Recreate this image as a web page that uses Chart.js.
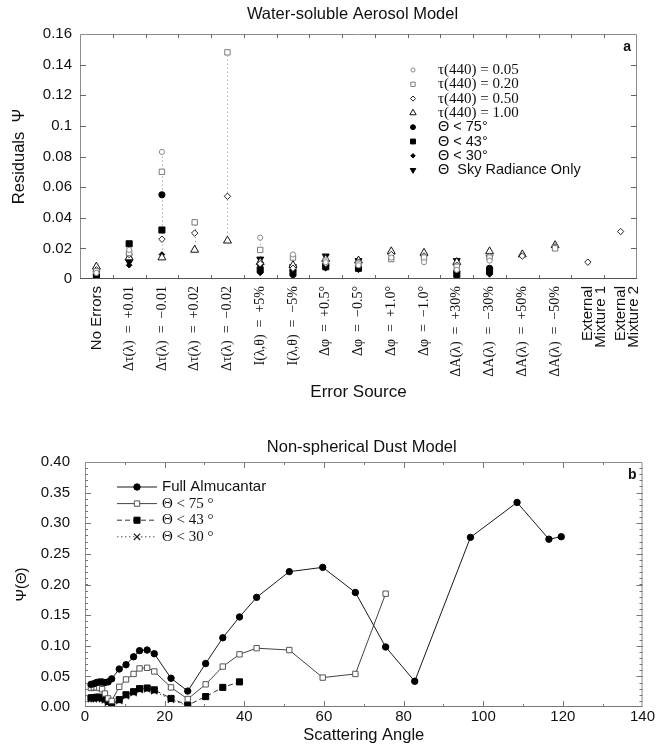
<!DOCTYPE html>
<html>
<head>
<meta charset="utf-8">
<script src="https://cdn.jsdelivr.net/npm/chart.js@4.4.1/dist/chart.umd.min.js"></script>
<style>
  html, body { margin: 0; padding: 0; background: #fff; }
  #wrap { position: relative; width: 656px; height: 753px; background: #fff; }
  canvas { position: absolute; left: 0; }
  #panelA { top: 0; }
  #panelB { top: 420px; }
</style>
</head>
<body>
<div id="wrap">
  <canvas id="panelA" width="656" height="410"></canvas>
  <canvas id="panelB" width="656" height="333"></canvas>
</div>
<script>
// ---------- Panel a: residuals for each error source ----------
const errorSources = [
  'No Errors',
  'Δτ(λ)  =  +0.01', 'Δτ(λ)  =  −0.01', 'Δτ(λ)  =  +0.02', 'Δτ(λ)  =  −0.02',
  'I(λ,θ)  =  +5%', 'I(λ,θ)  =  −5%',
  'Δφ  =  +0.5°', 'Δφ  =  −0.5°', 'Δφ  =  +1.0°', 'Δφ  =  −1.0°',
  'ΔA(λ)  =  +30%', 'ΔA(λ)  =  −30%', 'ΔA(λ)  =  +50%', 'ΔA(λ)  =  −50%',
  ['External', 'Mixture 1'], ['External', 'Mixture 2']
];
const residualTicks = [0, 0.02, 0.04, 0.06, 0.08, 0.1, 0.12, 0.14, 0.16];

const tau005  = [0.004, 0.019, 0.083, null, null, 0.027, 0.016, 0.011, 0.009, 0.014, 0.011, 0.006, 0.012, null, null, null, null];
const tau020  = [0.005, 0.017, 0.070, 0.037, 0.148, 0.019, 0.014, 0.012, 0.010, 0.013, 0.014, 0.008, 0.014, null, 0.020, null, null];
const tau050  = [0.006, 0.016, 0.026, 0.030, 0.054, 0.010, 0.007, 0.010, 0.011, 0.016, 0.015, 0.009, 0.015, 0.015, 0.021, 0.011, 0.031];
const tau100  = [0.008, 0.014, 0.014, 0.019, 0.025, 0.011, 0.009, 0.013, 0.012, 0.018, 0.017, 0.011, 0.018, 0.016, 0.022, null, null];
const theta75 = [0.003, 0.013, 0.055, null, null, 0.010, 0.006, 0.009, 0.008, null, null, 0.005, 0.007, null, null, null, null];
const theta43 = [0.002, 0.023, 0.032, null, null, 0.006, 0.004, 0.008, 0.007, null, null, 0.003, 0.005, null, null, null, null];
const theta30 = [0.001, 0.009, 0.016, null, null, 0.004, 0.002, 0.007, 0.006, null, null, 0.002, 0.003, null, null, null, null];
const skyOnly = [0.004, 0.011, null, null, null, 0.013, 0.008, 0.015, 0.012, null, null, 0.012, 0.014, null, null, null, null];

// ---------- Panel b: residual versus scattering angle ----------
const fullAngle = [1.5, 2.2, 2.9, 3.6, 4.3, 5.0, 5.8, 6.7, 8.6, 10.3, 12.2, 13.7, 15.6, 17.4, 21.6, 25.8, 30.3, 34.6, 38.8, 43.1, 51.3, 59.7, 67.9, 75.5, 82.8, 96.8, 108.5, 116.5, 119.6];
const fullPsi   = [0.037, 0.038, 0.040, 0.041, 0.041, 0.040, 0.041, 0.046, 0.062, 0.069, 0.082, 0.092, 0.093, 0.087, 0.047, 0.026, 0.071, 0.113, 0.147, 0.179, 0.221, 0.228, 0.187, 0.098, 0.042, 0.277, 0.334, 0.274, 0.278];
const lt75Angle = [1.5, 2.2, 2.9, 3.6, 4.3, 5.0, 5.8, 6.7, 8.6, 10.3, 12.2, 13.7, 15.6, 17.4, 21.6, 25.8, 30.3, 34.6, 38.8, 43.1, 51.3, 59.7, 67.9, 75.5];
const lt75Psi   = [0.031, 0.032, 0.032, 0.031, 0.029, 0.022, 0.014, 0.010, 0.033, 0.045, 0.054, 0.063, 0.064, 0.058, 0.032, 0.013, 0.037, 0.066, 0.086, 0.096, 0.093, 0.048, 0.054, 0.185];
const lt43Angle = [1.5, 2.2, 2.9, 3.6, 4.3, 5.0, 5.8, 6.7, 8.6, 10.3, 12.2, 13.7, 15.6, 17.4, 21.6, 25.8, 30.3, 34.6, 38.8];
const lt43Psi   = [0.015, 0.015, 0.016, 0.016, 0.015, 0.013, 0.009, 0.004, 0.012, 0.020, 0.025, 0.030, 0.031, 0.028, 0.014, 0.003, 0.017, 0.032, 0.041];
const lt30Angle = [1.5, 2.2, 2.9, 3.6, 4.3, 5.0, 5.8, 6.7, 8.6, 10.3, 12.2, 13.7, 15.6, 17.4, 21.6, 25.8];
const lt30Psi   = [0.013, 0.013, 0.014, 0.014, 0.013, 0.011, 0.007, 0.003, 0.010, 0.018, 0.023, 0.028, 0.029, 0.026, 0.012, 0.002];
const angleTicks = [0, 20, 40, 60, 80, 100, 120, 140];
const psiTicks = [0, 0.05, 0.10, 0.15, 0.20, 0.25, 0.30, 0.35, 0.40];

const SANS = '"Liberation Sans", Arial, Helvetica, sans-serif';
const SERIF = '"Liberation Serif", "Times New Roman", Times, serif';
const INK = '#111';

const pairs = (xs, ys) => xs.map((x, i) => ({ x, y: ys[i] }));

// Boxed frame with inward tick marks on all four sides
const frame = {
  id: 'frame',
  afterDatasetsDraw(chart, _args, o) {
    const { ctx, chartArea: a } = chart;
    const sx = chart.scales.x, sy = chart.scales.y;
    ctx.save();
    ctx.lineWidth = 1;
    ctx.strokeStyle = o.edge;
    ctx.beginPath();
    ctx.moveTo(a.left + 0.5, a.bottom);
    ctx.lineTo(a.left + 0.5, a.top + 0.5);
    ctx.lineTo(a.right - 0.5, a.top + 0.5);
    ctx.lineTo(a.right - 0.5, a.bottom);
    ctx.stroke();
    ctx.strokeStyle = o.base;
    ctx.beginPath();
    ctx.moveTo(a.left, a.bottom - 0.5);
    ctx.lineTo(a.right, a.bottom - 0.5);
    ctx.stroke();

    ctx.strokeStyle = o.tick;
    const hTick = (py, len) => {
      if (py <= a.top + 1 || py >= a.bottom - 1) return;
      py = Math.round(py) + 0.5;
      ctx.beginPath();
      ctx.moveTo(a.left, py); ctx.lineTo(a.left + len, py);
      ctx.moveTo(a.right, py); ctx.lineTo(a.right - len, py);
      ctx.stroke();
    };
    const vTick = (px, len) => {
      if (px <= a.left + 1 || px >= a.right - 1) return;
      px = Math.round(px) + 0.5;
      ctx.beginPath();
      ctx.moveTo(px, a.top); ctx.lineTo(px, a.top + len);
      ctx.moveTo(px, a.bottom); ctx.lineTo(px, a.bottom - len);
      ctx.stroke();
    };
    if (o.yMinor) {
      for (let v = sy.min; v <= sy.max + 1e-9; v += o.yMinor) hTick(sy.getPixelForValue(v), o.minorLen);
    }
    sy.ticks.forEach(t => hTick(sy.getPixelForValue(t.value), o.majorLen));
    if (sx.type === 'category') {
      for (let i = 1; i < sx.ticks.length; i++) {
        vTick((sx.getPixelForTick(i - 1) + sx.getPixelForTick(i)) / 2, o.minorLen + 1);
      }
    } else {
      if (o.xMinor) {
        for (let v = sx.min; v <= sx.max + 1e-9; v += o.xMinor) vTick(sx.getPixelForValue(v), o.minorLen);
      }
      sx.ticks.forEach(t => vTick(sx.getPixelForValue(t.value), o.majorLen));
    }
    ctx.restore();
  }
};

// Panel heading and panel letter
const panelText = {
  id: 'panelText',
  afterDraw(chart, _args, o) {
    const { ctx, chartArea: a } = chart;
    ctx.save();
    ctx.fillStyle = INK;
    ctx.textBaseline = 'middle';
    ctx.textAlign = 'center';
    ctx.font = o.titleSize + 'px ' + SANS;
    ctx.fillText(o.title, (a.left + a.right) / 2 + o.titleShift, o.titleY);
    ctx.textAlign = 'right';
    ctx.font = 'bold ' + o.letterSize + 'px ' + SANS;
    ctx.fillText(o.letter, a.right - 6, a.top + 13);
    ctx.restore();
  }
};

// Dotted vertical guide spanning the spread of results in each category
const spreadGuides = {
  id: 'spreadGuides',
  beforeDatasetsDraw(chart, _args, o) {
    const { ctx } = chart;
    const sx = chart.scales.x, sy = chart.scales.y;
    ctx.save();
    ctx.strokeStyle = o.color;
    ctx.lineWidth = 1;
    ctx.setLineDash([1, 3]);
    chart.data.labels.forEach((_l, i) => {
      const vals = chart.data.datasets.map(d => d.data[i]).filter(v => v !== null && v !== undefined);
      if (vals.length < 2) return;
      const lo = Math.min(...vals), hi = Math.max(...vals);
      if (hi - lo < 0.004) return;
      const px = Math.round(sx.getPixelForValue(i)) + 0.5;
      ctx.beginPath();
      ctx.moveTo(px, sy.getPixelForValue(lo));
      ctx.lineTo(px, sy.getPixelForValue(hi));
      ctx.stroke();
    });
    ctx.restore();
  }
};

// Marker-only key drawn inside the plot area
const markerKey = {
  id: 'markerKey',
  afterDraw(chart, _args, o) {
    const { ctx } = chart;
    chart.data.datasets.forEach((ds, i) => {
      const y = o.top + i * o.rowHeight;
      ctx.save();
      ctx.lineWidth = ds.pointBorderWidth || 1;
      ctx.strokeStyle = ds.pointBorderColor;
      ctx.fillStyle = ds.pointBackgroundColor;
      Chart.helpers.drawPoint(ctx, {
        pointStyle: ds.pointStyle, rotation: ds.pointRotation || 0,
        radius: ds.pointRadius * o.markerScale, borderWidth: ds.pointBorderWidth || 1
      }, o.left, y);
      ctx.fillStyle = INK;
      ctx.textAlign = 'left';
      ctx.textBaseline = 'middle';
      ctx.font = (ds.keyFamily === 'serif' ? o.serifSize + 'px ' + SERIF : o.sansSize + 'px ' + SANS);
      ctx.fillText(ds.label, o.left + o.textGap, y);
      ctx.restore();
    });
  }
};

// Line-and-marker key drawn inside the plot area
const lineKey = {
  id: 'lineKey',
  afterDraw(chart, _args, o) {
    const { ctx } = chart;
    chart.data.datasets.forEach((ds, i) => {
      const y = o.top + i * o.rowHeight;
      ctx.save();
      ctx.strokeStyle = ds.borderColor;
      ctx.lineWidth = ds.borderWidth;
      ctx.setLineDash(ds.borderDash || []);
      ctx.beginPath();
      ctx.moveTo(o.lineFrom, y); ctx.lineTo(o.lineTo, y);
      ctx.stroke();
      ctx.setLineDash([]);
      ctx.lineWidth = ds.pointBorderWidth || 1;
      ctx.strokeStyle = ds.pointBorderColor;
      ctx.fillStyle = ds.pointBackgroundColor;
      Chart.helpers.drawPoint(ctx, {
        pointStyle: ds.pointStyle, rotation: 0,
        radius: ds.pointRadius, borderWidth: ds.pointBorderWidth || 1
      }, (o.lineFrom + o.lineTo) / 2, y);
      ctx.fillStyle = INK;
      ctx.textAlign = 'left';
      ctx.textBaseline = 'middle';
      ctx.font = (ds.keyFamily === 'serif' ? o.serifSize + 'px ' + SERIF : o.sansSize + 'px ' + SANS);
      ctx.fillText(ds.label, o.textX, y);
      ctx.restore();
    });
  }
};

const fmtResidual = v => String(+Number(v).toFixed(2));

new Chart(document.getElementById('panelA'), {
  type: 'line',
  data: {
    labels: errorSources,
    datasets: [
      { label: 'τ(440) = 0.05', data: tau005, keyFamily: 'serif', pointStyle: 'circle', pointRadius: 2.6,
        pointBackgroundColor: '#fff', pointBorderColor: '#8a8a8a', pointBorderWidth: 1 },
      { label: 'τ(440) = 0.20', data: tau020, keyFamily: 'serif', pointStyle: 'rect', pointRadius: 3.8,
        pointBackgroundColor: '#fff', pointBorderColor: '#7a7a7a', pointBorderWidth: 1 },
      { label: 'τ(440) = 0.50', data: tau050, keyFamily: 'serif', pointStyle: 'rectRot', pointRadius: 3.2,
        pointBackgroundColor: '#fff', pointBorderColor: '#222', pointBorderWidth: 1 },
      { label: 'τ(440) = 1.00', data: tau100, keyFamily: 'serif', pointStyle: 'triangle', pointRadius: 4.6,
        pointBackgroundColor: '#fff', pointBorderColor: '#111', pointBorderWidth: 1 },
      { label: 'Θ < 75°', data: theta75, keyFamily: 'sans', pointStyle: 'circle', pointRadius: 3.1,
        pointBackgroundColor: '#000', pointBorderColor: '#000', pointBorderWidth: 1 },
      { label: 'Θ < 43°', data: theta43, keyFamily: 'sans', pointStyle: 'rect', pointRadius: 4.3,
        pointBackgroundColor: '#000', pointBorderColor: '#000', pointBorderWidth: 1 },
      { label: 'Θ < 30°', data: theta30, keyFamily: 'sans', pointStyle: 'rectRot', pointRadius: 2.8,
        pointBackgroundColor: '#000', pointBorderColor: '#000', pointBorderWidth: 1 },
      { label: 'Θ  Sky Radiance Only', data: skyOnly, keyFamily: 'sans', pointStyle: 'triangle', pointRotation: 180,
        pointRadius: 4, pointBackgroundColor: '#000', pointBorderColor: '#000', pointBorderWidth: 1 }
    ].map(d => Object.assign({ showLine: false }, d))
  },
  options: {
    responsive: false,
    animation: false,
    events: [],
    layout: { padding: { top: 34, right: 19, bottom: 4, left: 0 } },
    plugins: {
      legend: { display: false },
      tooltip: { enabled: false },
      frame: { edge: '#8c8c8c', base: '#555', tick: '#666', majorLen: 6, minorLen: 3, yMinor: 0 },
      panelText: { title: 'Water-soluble Aerosol Model', titleSize: 16.5, titleY: 14, titleShift: -6,
                   letter: 'a', letterSize: 14 },
      spreadGuides: { color: '#8a8a8a' },
      markerKey: { left: 413, top: 70, rowHeight: 14.3, textGap: 25, markerScale: 0.8, serifSize: 15, sansSize: 14.5 }
    },
    scales: {
      x: {
        type: 'category',
        offset: true,
        grid: { display: false, drawTicks: false },
        border: { display: false },
        ticks: {
          autoSkip: false, minRotation: 90, maxRotation: 90, padding: 7, color: INK,
          font: ctx => (ctx.index >= 1 && ctx.index <= 14)
            ? { family: SERIF, size: 14 }
            : { family: SANS, size: 15, lineHeight: 0.85 }
        },
        title: { display: true, text: 'Error Source', color: INK, font: { family: SANS, size: 17 },
                 padding: { top: 0, bottom: 3 } },
        afterFit: s => { s.height = 127; }
      },
      y: {
        min: 0, max: 0.16,
        afterBuildTicks: s => { s.ticks = residualTicks.map(v => ({ value: v })); },
        grid: { display: false, drawTicks: false },
        border: { display: false },
        ticks: { padding: 8, color: INK, font: { family: SANS, size: 15 }, callback: fmtResidual },
        title: { display: true, text: 'Residuals  Ψ', color: INK, font: { family: SANS, size: 16.5 },
                 padding: { top: 10, bottom: 0 } },
        afterFit: s => { s.width = 80; }
      }
    }
  },
  plugins: [spreadGuides, frame, panelText, markerKey]
});

new Chart(document.getElementById('panelB'), {
  type: 'scatter',
  data: {
    datasets: [
      { label: 'Full Almucantar', data: pairs(fullAngle, fullPsi), keyFamily: 'sans',
        showLine: true, borderColor: '#1a1a1a', borderWidth: 1,
        pointStyle: 'circle', pointRadius: 3.2, pointBackgroundColor: '#000', pointBorderColor: '#000', pointBorderWidth: 1 },
      { label: 'Θ < 75 °', data: pairs(lt75Angle, lt75Psi), keyFamily: 'serif',
        showLine: true, borderColor: '#444', borderWidth: 1,
        pointStyle: 'rect', pointRadius: 3.8, pointBackgroundColor: '#fff', pointBorderColor: '#555', pointBorderWidth: 1 },
      { label: 'Θ < 43 °', data: pairs(lt43Angle, lt43Psi), keyFamily: 'serif',
        showLine: true, borderColor: '#333', borderWidth: 1, borderDash: [5, 3],
        pointStyle: 'rect', pointRadius: 4.3, pointBackgroundColor: '#000', pointBorderColor: '#000', pointBorderWidth: 1 },
      { label: 'Θ < 30 °', data: pairs(lt30Angle, lt30Psi), keyFamily: 'serif',
        showLine: true, borderColor: '#555', borderWidth: 1, borderDash: [1.5, 2.5],
        pointStyle: 'crossRot', pointRadius: 4.5, pointBackgroundColor: '#000', pointBorderColor: '#222', pointBorderWidth: 1.2 }
    ]
  },
  options: {
    responsive: false,
    animation: false,
    events: [],
    layout: { padding: { top: 42, right: 13, bottom: 4, left: 0 } },
    plugins: {
      legend: { display: false },
      tooltip: { enabled: false },
      frame: { edge: '#8c8c8c', base: '#777', tick: '#777', majorLen: 6, minorLen: 3, yMinor: 0.01, xMinor: 10 },
      panelText: { title: 'Non-spherical Dust Model', titleSize: 16.5, titleY: 27, titleShift: -2,
                   letter: 'b', letterSize: 14 },
      lineKey: { lineFrom: 117, lineTo: 157, textX: 162, top: 67, rowHeight: 16.6, serifSize: 15, sansSize: 15 }
    },
    scales: {
      x: {
        type: 'linear', min: 0, max: 140,
        afterBuildTicks: s => { s.ticks = angleTicks.map(v => ({ value: v })); },
        grid: { display: false, drawTicks: false },
        border: { display: false },
        ticks: { padding: 1, color: INK, font: { family: SANS, size: 15 }, callback: v => String(v) },
        title: { display: true, text: 'Scattering Angle', color: INK, font: { family: SANS, size: 16.5 },
                 padding: { top: 0, bottom: 4 } },
        afterFit: s => { s.height = 42; }
      },
      y: {
        min: 0, max: 0.4,
        afterBuildTicks: s => { s.ticks = psiTicks.map(v => ({ value: v })); },
        grid: { display: false, drawTicks: false },
        border: { display: false },
        ticks: { padding: 15, color: INK, font: { family: SANS, size: 15 }, callback: v => Number(v).toFixed(2) },
        title: { display: true, text: 'Ψ(Θ)', color: INK, font: { family: SANS, size: 15 },
                 padding: { top: 13, bottom: 0 } },
        afterFit: s => { s.width = 85; }
      }
    }
  },
  plugins: [frame, panelText, lineKey]
});
</script>
</body>
</html>
